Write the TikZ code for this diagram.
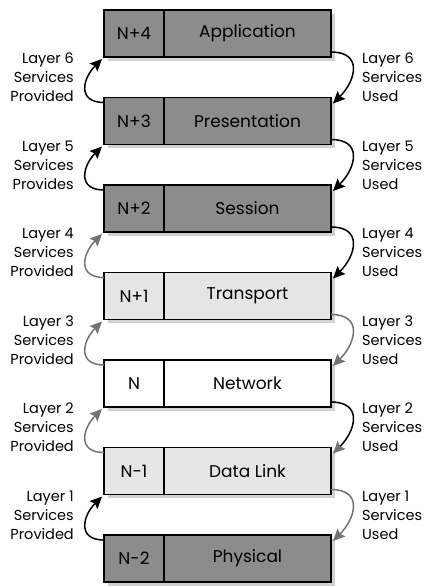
\documentclass[tikz,border=0pt]{standalone}
\usepackage{fontspec}
\setmainfont{Poppins}
\usetikzlibrary{arrows.meta,positioning,shadows}

\begin{document}
\begin{tikzpicture}[x=1pt,y=1pt,
  cell/.style={draw,line width=1.4pt,minimum height=47pt,inner sep=0pt,outer sep=0pt,
    font=\fontsize{17}{20}\selectfont,
    drop shadow={shadow xshift=4pt,shadow yshift=-4pt,fill=black!18,opacity=1}},
  numcell/.style={cell,minimum width=60pt},
  namecell/.style={cell,minimum width=167pt},
  darkbox/.style={fill=black!45},
  lightbox/.style={fill=black!10},
  whitebox/.style={fill=white},
  provided/.style={font=\fontsize{14.5}{19}\selectfont,align=right,anchor=east,inner sep=0pt},
  used/.style={font=\fontsize{14.5}{19}\selectfont,align=left,anchor=west,inner sep=0pt},
  svc/.style={line width=1.5pt,looseness=1.6,-{Stealth[length=12pt,width=11pt,inset=2pt]}},
  svcgray/.style={svc,black!55}]
\useasboundingbox (0,0) rectangle (425,586);

\node[numcell,darkbox] (app-n) at (134,552.5) {N+4};
\node[namecell,darkbox,right=0pt of app-n] (app) {Application};
\node[numcell,darkbox,below=40.5pt of app-n] (pres-n) {N+3};
\node[namecell,darkbox,right=0pt of pres-n] (pres) {Presentation};
\node[numcell,darkbox,below=40.5pt of pres-n] (sess-n) {N+2};
\node[namecell,darkbox,right=0pt of sess-n] (sess) {Session};
\node[numcell,lightbox,below=40.5pt of sess-n] (trans-n) {N+1};
\node[namecell,lightbox,right=0pt of trans-n] (trans) {Transport};
\node[numcell,whitebox,below=40.5pt of trans-n] (net-n) {N};
\node[namecell,whitebox,right=0pt of net-n] (net) {Network};
\node[numcell,lightbox,below=40.5pt of net-n] (link-n) {N-1};
\node[namecell,lightbox,right=0pt of link-n] (link) {Data Link};
\node[numcell,darkbox,below=40.5pt of link-n] (phys-n) {N-2};
\node[namecell,darkbox,right=0pt of phys-n] (phys) {Physical};

\node[provided] (p6) at (74,508.5) {Layer 6\\Services\\Provided};
\node[provided] (p5) at (74,421) {Layer 5\\Services\\Provides};
\node[provided] (p4) at (74,333.5) {Layer 4\\Services\\Provided};
\node[provided] (p3) at (74,246) {Layer 3\\Services\\Provided};
\node[provided] (p2) at (74,158.5) {Layer 2\\Services\\Provided};
\node[provided] (p1) at (74,71) {Layer 1\\Services\\Provided};

\node[used] (u6) at (362,508.5) {Layer 6\\Services\\Used};
\node[used] (u5) at (362,421) {Layer 5\\Services\\Used};
\node[used] (u4) at (362,333.5) {Layer 4\\Services\\Used};
\node[used] (u3) at (362,246) {Layer 3\\Services\\Used};
\node[used] (u2) at (362,158.5) {Layer 2\\Services\\Used};
\node[used] (u1) at (362,71) {Layer 1\\Services\\Used};

\draw[svc] ([yshift=-5pt]pres-n.north west) to[out=180,in=225] ([xshift=-2pt,yshift=-2pt]app-n.south west);
\draw[svc] ([yshift=-5pt]sess-n.north west) to[out=180,in=225] ([xshift=-2pt,yshift=-2pt]pres-n.south west);
\draw[svcgray] ([yshift=-5pt]trans-n.north west) to[out=180,in=225] ([xshift=-2pt,yshift=-2pt]sess-n.south west);
\draw[svcgray] ([yshift=-5pt]net-n.north west) to[out=180,in=225] ([xshift=-2pt,yshift=-2pt]trans-n.south west);
\draw[svcgray] ([yshift=-5pt]link-n.north west) to[out=180,in=225] ([xshift=-2pt,yshift=-2pt]net-n.south west);
\draw[svc] ([yshift=-5pt]phys-n.north west) to[out=180,in=225] ([xshift=-2pt,yshift=-2pt]link-n.south west);

\draw[svc] ([yshift=5pt]app.south east) to[out=0,in=45] ([xshift=2pt,yshift=-6pt]pres.north east);
\draw[svc] ([yshift=5pt]pres.south east) to[out=0,in=45] ([xshift=2pt,yshift=-6pt]sess.north east);
\draw[svc] ([yshift=5pt]sess.south east) to[out=0,in=45] ([xshift=2pt,yshift=-6pt]trans.north east);
\draw[svcgray] ([yshift=5pt]trans.south east) to[out=0,in=45] ([xshift=2pt,yshift=-6pt]net.north east);
\draw[svc,-{Stealth[length=12pt,width=11pt,inset=2pt,black!55]}] ([yshift=5pt]net.south east) to[out=0,in=45] ([xshift=2pt,yshift=-6pt]link.north east);
\draw[svcgray] ([yshift=5pt]link.south east) to[out=0,in=45] ([xshift=2pt,yshift=-6pt]phys.north east);

\end{tikzpicture}
\end{document}
